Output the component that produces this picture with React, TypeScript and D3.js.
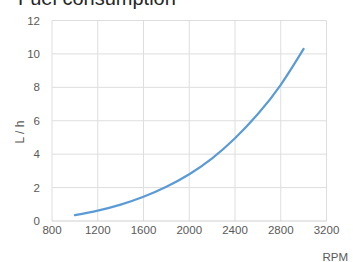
import React from "react";
import * as d3 from "d3";

const rpm = [1000, 1200, 1400, 1600, 1800, 2000, 2200, 2400, 2600, 2800, 3000];
const litersPerHour = [0.35, 0.62, 0.98, 1.45, 2.05, 2.8, 3.75, 4.95, 6.4, 8.15, 10.3];
const xTicks = [800, 1200, 1600, 2000, 2400, 2800, 3200];
const yTicks = [0, 2, 4, 6, 8, 10, 12];

const W = 353;
const H = 262;
const left = 52;
const right = 326.5;
const top = 20.5;
const bottom = 221;

export default function App() {
  const x = d3.scaleLinear().domain([800, 3200]).range([left, right]);
  const y = d3.scaleLinear().domain([0, 12]).range([bottom, top]);
  const line = d3
    .line<number>()
    .x((_, i) => x(rpm[i]))
    .y((d) => y(d))
    .curve(d3.curveNatural);
  const font = "'Liberation Sans', Arial, sans-serif";
  return (
    <svg
      width={W}
      height={H}
      style={{ position: "absolute", left: 0, top: 0, background: "#fff" }}
    >
      <text x={18} y={5} fontSize={20} fill="#262626" fontFamily={font}>
        Fuel consumption
      </text>
      {xTicks.map((t) => (
        <line key={"gx" + t} x1={x(t)} x2={x(t)} y1={top} y2={bottom} stroke="#dedede" strokeWidth={1} />
      ))}
      {yTicks.map((t) => (
        <line key={"gy" + t} x1={left} x2={right} y1={y(t)} y2={y(t)} stroke={t === 0 ? "#d0d0d0" : "#dedede"} strokeWidth={1} />
      ))}
      {yTicks.map((t) => (
        <text key={"ty" + t} x={40} y={y(t) + 4} textAnchor="end" fontSize={11.5} fill="#595959" fontFamily={font}>
          {t}
        </text>
      ))}
      {xTicks.map((t) => (
        <text key={"tx" + t} x={x(t)} y={234} textAnchor="middle" fontSize={11.5} fill="#595959" fontFamily={font}>
          {t}
        </text>
      ))}
      <text x={348} y={261} textAnchor="end" fontSize={11.5} fill="#595959" fontFamily={font}>
        RPM
      </text>
      <text
        transform={`translate(24,132) rotate(-90)`}
        textAnchor="middle"
        fontSize={12}
        fill="#595959"
        fontFamily={font}
      >
        L / h
      </text>
      <path d={line(litersPerHour) || ""} fill="none" stroke="#5b9bd5" strokeWidth={2.2} strokeLinecap="round" />
    </svg>
  );
}
